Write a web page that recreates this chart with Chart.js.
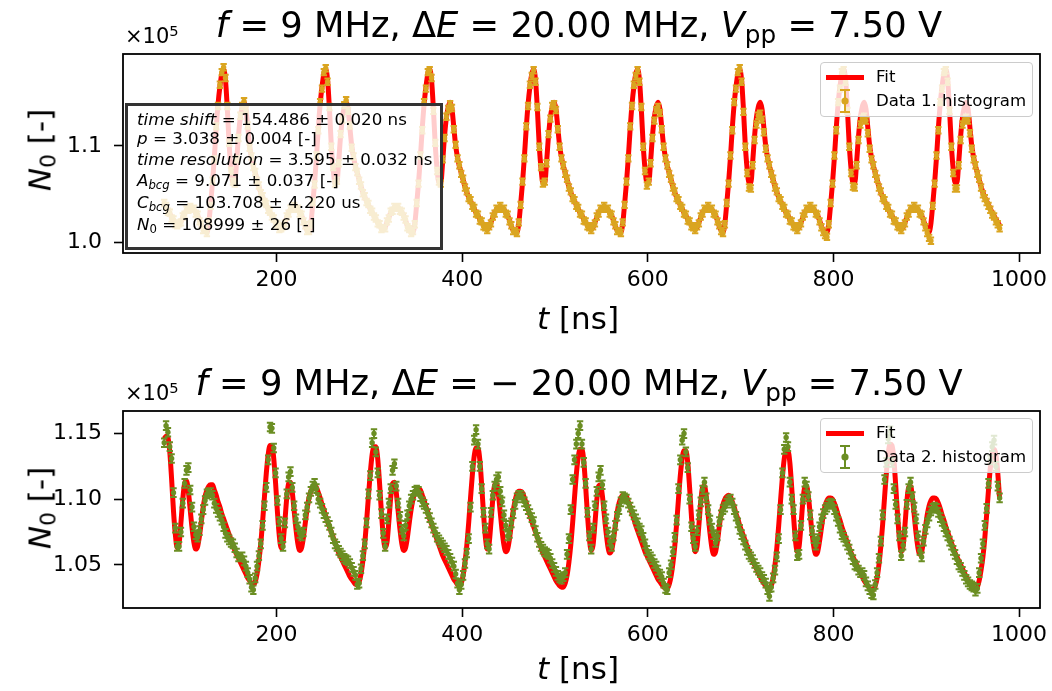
<!DOCTYPE html>
<html>
<head>
<meta charset="utf-8">
<script src="https://cdn.jsdelivr.net/npm/chart.js@4.4.0/dist/chart.umd.min.js"></script>
<style>
  body { margin: 0; background: #fff; font-family: "DejaVu Sans", sans-serif; color: #000; }
  #page { position: relative; width: 1052px; height: 691px; overflow: hidden; }
  canvas { position: absolute; left: 0; }
  .txt { position: absolute; white-space: nowrap; line-height: 1; }
  .title { font-size: 35.3px; transform: translateX(-50%); }
  .xlabel { font-size: 31px; transform: translateX(-50%); }
  .ylabel { font-size: 31px; transform: translate(-50%, -50%) rotate(-90deg); }
  .offset { font-size: 21px; }
  sub { font-size: 0.7em; vertical-align: -0.25em; line-height: 0; }
  sup { font-size: 0.7em; vertical-align: 0.45em; line-height: 0; }
  .legend { position: absolute; box-sizing: border-box; border: 1px solid #cccccc; border-radius: 4px;
            background: rgba(255, 255, 255, 0.8); }
  .legend .fitline { position: absolute; left: 5px; width: 38px; height: 5px; background: #ff0000; }
  .legend .txt { font-size: 16.6px; left: 55px; }
  .legend svg { position: absolute; left: 17px; }
  .fitbox { position: absolute; left: 125px; top: 103px; width: 318px; height: 147px; box-sizing: border-box;
            border: 3px solid #333333; background: rgba(255, 255, 255, 0.8); }
  .fitbox-line { position: absolute; left: 137px; font-size: 16.7px; line-height: 1; white-space: nowrap; }
</style>
</head>
<body>
<div id="page">
  <canvas id="topChart" width="1052" height="345" style="top:0"></canvas>
  <canvas id="bottomChart" width="1052" height="346" style="top:345px"></canvas>

  <!-- upper panel texts -->
  <div class="txt title" style="left:579px; top:7px"><i>f</i> = 9 MHz, Δ<i>E</i> = 20.00 MHz, <i>V</i><sub>pp</sub> = 7.50 V</div>
  <div class="txt offset" style="left:125px; top:26px">×10<sup>5</sup></div>
  <div class="txt ylabel" style="left:40px; top:150px"><i>N</i><sub>0</sub> [-]</div>
  <div class="txt xlabel" style="left:578px; top:303px"><i>t</i> [ns]</div>

  <div class="fitbox"></div>
  <div class="fitbox-line" style="top:111px"><i>time shift</i> = 154.486 ± 0.020 ns</div>
  <div class="fitbox-line" style="top:129.5px"><i>p</i> = 3.038 ± 0.004 [-]</div>
  <div class="fitbox-line" style="top:151px"><i>time resolution</i> = 3.595 ± 0.032 ns</div>
  <div class="fitbox-line" style="top:171.5px"><i>A</i><sub><i>bcg</i></sub> = 9.071 ± 0.037 [-]</div>
  <div class="fitbox-line" style="top:194px"><i>C</i><sub><i>bcg</i></sub> = 103.708 ± 4.220 us</div>
  <div class="fitbox-line" style="top:216px"><i>N</i><sub>0</sub> = 108999 ± 26 [-]</div>

  <div class="legend" style="left:820px; top:62px; width:213px; height:55px">
    <div class="fitline" style="top:11.5px"></div>
    <div class="txt" style="top:5.5px">Fit</div>
    <svg width="14" height="26" style="top:25px"><g stroke="#daa520" stroke-width="2"><line x1="7" y1="2" x2="7" y2="24"/><line x1="2" y1="2" x2="12" y2="2"/><line x1="2" y1="24" x2="12" y2="24"/></g><circle cx="7" cy="13" r="3.6" fill="#daa520"/></svg>
    <div class="txt" style="top:30px">Data 1. histogram</div>
  </div>

  <!-- lower panel texts -->
  <div class="txt title" style="left:579px; top:365px"><i>f</i> = 9 MHz, Δ<i>E</i> = − 20.00 MHz, <i>V</i><sub>pp</sub> = 7.50 V</div>
  <div class="txt offset" style="left:125px; top:383px">×10<sup>5</sup></div>
  <div class="txt ylabel" style="left:40px; top:508px"><i>N</i><sub>0</sub> [-]</div>
  <div class="txt xlabel" style="left:578px; top:653px"><i>t</i> [ns]</div>

  <div class="legend" style="left:820px; top:418px; width:213px; height:55px">
    <div class="fitline" style="top:11.5px"></div>
    <div class="txt" style="top:5.5px">Fit</div>
    <svg width="14" height="26" style="top:25px"><g stroke="#6b8e23" stroke-width="2"><line x1="7" y1="2" x2="7" y2="24"/><line x1="2" y1="2" x2="12" y2="2"/><line x1="2" y1="24" x2="12" y2="24"/></g><circle cx="7" cy="13" r="3.6" fill="#6b8e23"/></svg>
    <div class="txt" style="top:30px">Data 2. histogram</div>
  </div>
</div>

<script>
// histogram bin times [ns]
const times = [
  79, 81, 83, 85, 87, 89, 91, 93, 95, 97,
  99, 101, 103, 105, 107, 109, 111, 113, 115, 117,
  119, 121, 123, 125, 127, 129, 131, 133, 135, 137,
  139, 141, 143, 145, 147, 149, 151, 153, 155, 157,
  159, 161, 163, 165, 167, 169, 171, 173, 175, 177,
  179, 181, 183, 185, 187, 189, 191, 193, 195, 197,
  199, 201, 203, 205, 207, 209, 211, 213, 215, 217,
  219, 221, 223, 225, 227, 229, 231, 233, 235, 237,
  239, 241, 243, 245, 247, 249, 251, 253, 255, 257,
  259, 261, 263, 265, 267, 269, 271, 273, 275, 277,
  279, 281, 283, 285, 287, 289, 291, 293, 295, 297,
  299, 301, 303, 305, 307, 309, 311, 313, 315, 317,
  319, 321, 323, 325, 327, 329, 331, 333, 335, 337,
  339, 341, 343, 345, 347, 349, 351, 353, 355, 357,
  359, 361, 363, 365, 367, 369, 371, 373, 375, 377,
  379, 381, 383, 385, 387, 389, 391, 393, 395, 397,
  399, 401, 403, 405, 407, 409, 411, 413, 415, 417,
  419, 421, 423, 425, 427, 429, 431, 433, 435, 437,
  439, 441, 443, 445, 447, 449, 451, 453, 455, 457,
  459, 461, 463, 465, 467, 469, 471, 473, 475, 477,
  479, 481, 483, 485, 487, 489, 491, 493, 495, 497,
  499, 501, 503, 505, 507, 509, 511, 513, 515, 517,
  519, 521, 523, 525, 527, 529, 531, 533, 535, 537,
  539, 541, 543, 545, 547, 549, 551, 553, 555, 557,
  559, 561, 563, 565, 567, 569, 571, 573, 575, 577,
  579, 581, 583, 585, 587, 589, 591, 593, 595, 597,
  599, 601, 603, 605, 607, 609, 611, 613, 615, 617,
  619, 621, 623, 625, 627, 629, 631, 633, 635, 637,
  639, 641, 643, 645, 647, 649, 651, 653, 655, 657,
  659, 661, 663, 665, 667, 669, 671, 673, 675, 677,
  679, 681, 683, 685, 687, 689, 691, 693, 695, 697,
  699, 701, 703, 705, 707, 709, 711, 713, 715, 717,
  719, 721, 723, 725, 727, 729, 731, 733, 735, 737,
  739, 741, 743, 745, 747, 749, 751, 753, 755, 757,
  759, 761, 763, 765, 767, 769, 771, 773, 775, 777,
  779, 781, 783, 785, 787, 789, 791, 793, 795, 797,
  799, 801, 803, 805, 807, 809, 811, 813, 815, 817,
  819, 821, 823, 825, 827, 829, 831, 833, 835, 837,
  839, 841, 843, 845, 847, 849, 851, 853, 855, 857,
  859, 861, 863, 865, 867, 869, 871, 873, 875, 877,
  879, 881, 883, 885, 887, 889, 891, 893, 895, 897,
  899, 901, 903, 905, 907, 909, 911, 913, 915, 917,
  919, 921, 923, 925, 927, 929, 931, 933, 935, 937,
  939, 941, 943, 945, 947, 949, 951, 953, 955, 957,
  959, 961, 963, 965, 967, 969, 971, 973, 975, 977,
  979
];

// 1st histogram, N0 in units of 1e5
const fit1 = [
  1.040, 1.037, 1.033, 1.030, 1.026, 1.023, 1.020, 1.018, 1.019, 1.022,
  1.026, 1.030, 1.033, 1.035, 1.036, 1.036, 1.034, 1.031, 1.028, 1.023,
  1.018, 1.014, 1.012, 1.011, 1.020, 1.040, 1.062, 1.088, 1.118, 1.143,
  1.161, 1.174, 1.179, 1.168, 1.138, 1.101, 1.076, 1.062, 1.062, 1.084,
  1.110, 1.129, 1.140, 1.145, 1.138, 1.119, 1.100, 1.088, 1.079, 1.072,
  1.065, 1.058, 1.052, 1.047, 1.043, 1.039, 1.035, 1.031, 1.028, 1.024,
  1.021, 1.018, 1.015, 1.014, 1.016, 1.021, 1.026, 1.031, 1.034, 1.036,
  1.037, 1.036, 1.034, 1.031, 1.028, 1.023, 1.017, 1.013, 1.011, 1.020,
  1.040, 1.062, 1.088, 1.118, 1.143, 1.161, 1.174, 1.179, 1.168, 1.138,
  1.101, 1.076, 1.062, 1.062, 1.084, 1.110, 1.129, 1.140, 1.145, 1.138,
  1.119, 1.100, 1.088, 1.079, 1.072, 1.065, 1.058, 1.052, 1.047, 1.043,
  1.039, 1.035, 1.031, 1.028, 1.024, 1.021, 1.018, 1.015, 1.014, 1.016,
  1.021, 1.026, 1.031, 1.034, 1.036, 1.037, 1.036, 1.034, 1.031, 1.028,
  1.023, 1.017, 1.013, 1.011, 1.011, 1.020, 1.040, 1.062, 1.088, 1.118,
  1.143, 1.161, 1.174, 1.179, 1.168, 1.138, 1.101, 1.076, 1.062, 1.062,
  1.084, 1.110, 1.129, 1.140, 1.145, 1.138, 1.119, 1.100, 1.088, 1.079,
  1.072, 1.065, 1.058, 1.052, 1.047, 1.043, 1.039, 1.035, 1.031, 1.028,
  1.024, 1.021, 1.018, 1.015, 1.014, 1.016, 1.021, 1.026, 1.031, 1.034,
  1.036, 1.037, 1.036, 1.034, 1.031, 1.028, 1.023, 1.017, 1.013, 1.011,
  1.011, 1.020, 1.040, 1.062, 1.088, 1.118, 1.143, 1.161, 1.174, 1.179,
  1.168, 1.138, 1.101, 1.076, 1.062, 1.062, 1.084, 1.110, 1.129, 1.140,
  1.145, 1.138, 1.119, 1.100, 1.088, 1.079, 1.072, 1.065, 1.058, 1.052,
  1.047, 1.043, 1.039, 1.035, 1.031, 1.028, 1.024, 1.021, 1.018, 1.015,
  1.014, 1.016, 1.021, 1.026, 1.031, 1.034, 1.036, 1.037, 1.036, 1.034,
  1.031, 1.028, 1.023, 1.017, 1.013, 1.011, 1.011, 1.020, 1.040, 1.062,
  1.088, 1.118, 1.143, 1.161, 1.174, 1.179, 1.168, 1.138, 1.101, 1.076,
  1.062, 1.062, 1.084, 1.110, 1.129, 1.140, 1.145, 1.138, 1.119, 1.100,
  1.088, 1.079, 1.072, 1.065, 1.058, 1.052, 1.047, 1.043, 1.039, 1.035,
  1.031, 1.028, 1.024, 1.021, 1.018, 1.015, 1.014, 1.016, 1.021, 1.026,
  1.031, 1.034, 1.036, 1.037, 1.036, 1.034, 1.031, 1.028, 1.023, 1.017,
  1.013, 1.011, 1.020, 1.040, 1.062, 1.088, 1.118, 1.143, 1.161, 1.174,
  1.179, 1.168, 1.138, 1.101, 1.076, 1.062, 1.062, 1.084, 1.110, 1.129,
  1.140, 1.145, 1.138, 1.119, 1.100, 1.088, 1.079, 1.072, 1.065, 1.058,
  1.052, 1.047, 1.043, 1.039, 1.035, 1.031, 1.028, 1.024, 1.021, 1.018,
  1.015, 1.014, 1.016, 1.021, 1.026, 1.031, 1.034, 1.036, 1.037, 1.036,
  1.034, 1.031, 1.028, 1.023, 1.017, 1.013, 1.011, 1.011, 1.020, 1.040,
  1.062, 1.088, 1.118, 1.143, 1.161, 1.174, 1.179, 1.168, 1.138, 1.101,
  1.076, 1.062, 1.062, 1.084, 1.110, 1.129, 1.140, 1.145, 1.138, 1.119,
  1.100, 1.088, 1.079, 1.072, 1.065, 1.058, 1.052, 1.047, 1.043, 1.039,
  1.035, 1.031, 1.028, 1.024, 1.021, 1.018, 1.015, 1.014, 1.016, 1.021,
  1.026, 1.031, 1.034, 1.036, 1.037, 1.036, 1.034, 1.031, 1.028, 1.023,
  1.017, 1.013, 1.011, 1.020, 1.040, 1.062, 1.088, 1.118, 1.143, 1.161,
  1.174, 1.179, 1.168, 1.138, 1.101, 1.076, 1.062, 1.062, 1.084, 1.110,
  1.129, 1.140, 1.145, 1.138, 1.119, 1.100, 1.088, 1.079, 1.072, 1.065,
  1.058, 1.052, 1.047, 1.043, 1.039, 1.035, 1.031, 1.028, 1.024, 1.021,
  1.018
];
const counts1 = [
  1.041, 1.038, 1.032, 1.031, 1.025, 1.024, 1.019, 1.018, 1.020, 1.021,
  1.027, 1.029, 1.034, 1.034, 1.037, 1.035, 1.035, 1.030, 1.029, 1.022,
  1.019, 1.013, 1.013, 1.010, 1.022, 1.038, 1.064, 1.086, 1.120, 1.141,
  1.163, 1.176, 1.181, 1.170, 1.141, 1.103, 1.074, 1.063, 1.061, 1.086,
  1.108, 1.131, 1.141, 1.146, 1.137, 1.121, 1.098, 1.089, 1.078, 1.073,
  1.064, 1.059, 1.051, 1.048, 1.042, 1.040, 1.034, 1.032, 1.027, 1.025,
  1.020, 1.019, 1.014, 1.015, 1.017, 1.020, 1.027, 1.030, 1.035, 1.035,
  1.038, 1.035, 1.035, 1.030, 1.029, 1.022, 1.018, 1.012, 1.012, 1.019,
  1.042, 1.060, 1.090, 1.116, 1.145, 1.159, 1.176, 1.180, 1.166, 1.140,
  1.099, 1.078, 1.061, 1.064, 1.082, 1.112, 1.127, 1.142, 1.147, 1.136,
  1.121, 1.098, 1.089, 1.078, 1.073, 1.064, 1.059, 1.051, 1.048, 1.042,
  1.040, 1.034, 1.032, 1.027, 1.025, 1.020, 1.019, 1.014, 1.015, 1.015,
  1.022, 1.025, 1.032, 1.033, 1.037, 1.036, 1.037, 1.033, 1.032, 1.027,
  1.024, 1.016, 1.014, 1.010, 1.012, 1.019, 1.041, 1.061, 1.090, 1.116,
  1.145, 1.159, 1.176, 1.178, 1.170, 1.136, 1.103, 1.074, 1.063, 1.061,
  1.086, 1.108, 1.130, 1.138, 1.143, 1.139, 1.117, 1.101, 1.087, 1.080,
  1.071, 1.066, 1.057, 1.053, 1.046, 1.044, 1.038, 1.036, 1.030, 1.029,
  1.023, 1.022, 1.017, 1.016, 1.013, 1.017, 1.020, 1.027, 1.030, 1.035,
  1.035, 1.038, 1.035, 1.035, 1.030, 1.029, 1.022, 1.018, 1.012, 1.012,
  1.010, 1.021, 1.039, 1.063, 1.087, 1.120, 1.141, 1.163, 1.172, 1.178,
  1.166, 1.140, 1.099, 1.078, 1.061, 1.063, 1.082, 1.112, 1.128, 1.141,
  1.143, 1.137, 1.117, 1.099, 1.087, 1.080, 1.071, 1.066, 1.057, 1.053,
  1.046, 1.044, 1.038, 1.036, 1.030, 1.029, 1.023, 1.022, 1.017, 1.016,
  1.013, 1.017, 1.020, 1.027, 1.030, 1.035, 1.035, 1.038, 1.035, 1.035,
  1.030, 1.029, 1.022, 1.018, 1.012, 1.012, 1.010, 1.021, 1.039, 1.063,
  1.087, 1.120, 1.141, 1.163, 1.172, 1.178, 1.166, 1.140, 1.099, 1.074,
  1.059, 1.063, 1.082, 1.108, 1.126, 1.137, 1.140, 1.134, 1.117, 1.099,
  1.087, 1.080, 1.071, 1.066, 1.057, 1.053, 1.046, 1.044, 1.038, 1.036,
  1.030, 1.029, 1.023, 1.022, 1.017, 1.016, 1.013, 1.017, 1.020, 1.027,
  1.030, 1.035, 1.035, 1.038, 1.035, 1.035, 1.030, 1.029, 1.022, 1.018,
  1.012, 1.010, 1.019, 1.041, 1.061, 1.090, 1.116, 1.145, 1.159, 1.176,
  1.180, 1.166, 1.135, 1.099, 1.072, 1.057, 1.056, 1.080, 1.106, 1.122,
  1.131, 1.133, 1.127, 1.114, 1.097, 1.087, 1.080, 1.071, 1.066, 1.057,
  1.053, 1.046, 1.044, 1.038, 1.036, 1.030, 1.029, 1.023, 1.022, 1.017,
  1.016, 1.013, 1.017, 1.020, 1.027, 1.030, 1.035, 1.035, 1.038, 1.035,
  1.035, 1.030, 1.029, 1.022, 1.016, 1.011, 1.008, 1.006, 1.019, 1.041,
  1.061, 1.090, 1.116, 1.145, 1.159, 1.176, 1.178, 1.166, 1.136, 1.099,
  1.072, 1.058, 1.057, 1.080, 1.106, 1.122, 1.128, 1.130, 1.126, 1.113,
  1.097, 1.086, 1.080, 1.071, 1.066, 1.057, 1.053, 1.046, 1.044, 1.038,
  1.036, 1.030, 1.029, 1.023, 1.022, 1.017, 1.016, 1.013, 1.017, 1.020,
  1.027, 1.030, 1.035, 1.035, 1.038, 1.035, 1.035, 1.030, 1.029, 1.022,
  1.016, 1.010, 1.005, 1.002, 1.038, 1.061, 1.090, 1.116, 1.145, 1.159,
  1.176, 1.178, 1.166, 1.136, 1.099, 1.072, 1.056, 1.056, 1.080, 1.106,
  1.122, 1.127, 1.129, 1.126, 1.113, 1.097, 1.086, 1.080, 1.071, 1.066,
  1.057, 1.050, 1.046, 1.042, 1.038, 1.034, 1.029, 1.027, 1.022, 1.019,
  1.015
];

// 2nd histogram, N0 in units of 1e5
const fit2 = [
  1.146, 1.148, 1.147, 1.136, 1.115, 1.091, 1.073, 1.063, 1.066, 1.082,
  1.100, 1.112, 1.114, 1.106, 1.092, 1.078, 1.067, 1.062, 1.064, 1.072,
  1.083, 1.094, 1.102, 1.107, 1.110, 1.111, 1.111, 1.107, 1.103, 1.098,
  1.094, 1.089, 1.085, 1.081, 1.077, 1.073, 1.069, 1.065, 1.061, 1.058,
  1.055, 1.052, 1.049, 1.046, 1.043, 1.040, 1.038, 1.036, 1.035, 1.037,
  1.043, 1.053, 1.066, 1.083, 1.102, 1.120, 1.134, 1.141, 1.141, 1.131,
  1.112, 1.090, 1.072, 1.063, 1.067, 1.083, 1.101, 1.112, 1.113, 1.105,
  1.091, 1.077, 1.066, 1.061, 1.063, 1.071, 1.082, 1.093, 1.101, 1.106,
  1.109, 1.110, 1.109, 1.105, 1.101, 1.096, 1.092, 1.087, 1.083, 1.079,
  1.075, 1.071, 1.067, 1.063, 1.059, 1.056, 1.053, 1.050, 1.047, 1.044,
  1.041, 1.039, 1.037, 1.035, 1.035, 1.037, 1.043, 1.053, 1.066, 1.083,
  1.102, 1.120, 1.134, 1.140, 1.140, 1.131, 1.112, 1.090, 1.072, 1.063,
  1.067, 1.083, 1.101, 1.112, 1.113, 1.105, 1.091, 1.077, 1.066, 1.061,
  1.063, 1.071, 1.082, 1.092, 1.100, 1.105, 1.107, 1.108, 1.107, 1.103,
  1.099, 1.094, 1.090, 1.085, 1.081, 1.077, 1.073, 1.069, 1.065, 1.061,
  1.057, 1.054, 1.051, 1.048, 1.045, 1.042, 1.039, 1.037, 1.035, 1.034,
  1.036, 1.042, 1.052, 1.065, 1.082, 1.101, 1.119, 1.133, 1.139, 1.139,
  1.130, 1.111, 1.089, 1.071, 1.062, 1.066, 1.082, 1.100, 1.111, 1.112,
  1.104, 1.090, 1.076, 1.065, 1.060, 1.062, 1.070, 1.081, 1.091, 1.099,
  1.104, 1.106, 1.106, 1.105, 1.101, 1.097, 1.092, 1.088, 1.083, 1.079,
  1.075, 1.071, 1.067, 1.063, 1.059, 1.056, 1.053, 1.050, 1.047, 1.044,
  1.041, 1.038, 1.036, 1.034, 1.033, 1.033, 1.036, 1.042, 1.052, 1.065,
  1.082, 1.101, 1.119, 1.132, 1.138, 1.138, 1.129, 1.110, 1.088, 1.070,
  1.061, 1.065, 1.081, 1.099, 1.110, 1.111, 1.103, 1.089, 1.075, 1.064,
  1.059, 1.061, 1.069, 1.080, 1.090, 1.097, 1.101, 1.103, 1.103, 1.102,
  1.098, 1.094, 1.089, 1.085, 1.080, 1.076, 1.072, 1.068, 1.064, 1.060,
  1.057, 1.054, 1.051, 1.048, 1.045, 1.042, 1.039, 1.037, 1.035, 1.033,
  1.032, 1.032, 1.035, 1.041, 1.051, 1.064, 1.081, 1.100, 1.118, 1.131,
  1.137, 1.137, 1.128, 1.109, 1.087, 1.069, 1.060, 1.064, 1.080, 1.098,
  1.109, 1.110, 1.102, 1.088, 1.074, 1.063, 1.058, 1.060, 1.068, 1.079,
  1.089, 1.096, 1.100, 1.102, 1.103, 1.102, 1.098, 1.094, 1.089, 1.085,
  1.080, 1.076, 1.072, 1.068, 1.064, 1.060, 1.056, 1.053, 1.050, 1.047,
  1.044, 1.041, 1.038, 1.036, 1.034, 1.032, 1.031, 1.034, 1.040, 1.050,
  1.063, 1.080, 1.099, 1.117, 1.131, 1.137, 1.137, 1.128, 1.109, 1.087,
  1.069, 1.060, 1.064, 1.080, 1.098, 1.109, 1.110, 1.102, 1.088, 1.074,
  1.063, 1.058, 1.060, 1.068, 1.078, 1.088, 1.095, 1.099, 1.101, 1.101,
  1.100, 1.097, 1.093, 1.088, 1.084, 1.079, 1.075, 1.071, 1.067, 1.063,
  1.059, 1.056, 1.053, 1.050, 1.047, 1.044, 1.041, 1.038, 1.036, 1.034,
  1.032, 1.031, 1.031, 1.034, 1.040, 1.050, 1.064, 1.081, 1.101, 1.120,
  1.135, 1.142, 1.141, 1.131, 1.111, 1.089, 1.070, 1.060, 1.064, 1.080,
  1.098, 1.109, 1.110, 1.102, 1.088, 1.074, 1.063, 1.058, 1.060, 1.068,
  1.078, 1.088, 1.095, 1.099, 1.101, 1.101, 1.100, 1.097, 1.093, 1.088,
  1.084, 1.079, 1.075, 1.071, 1.067, 1.063, 1.059, 1.056, 1.053, 1.050,
  1.047, 1.044, 1.041, 1.038, 1.036, 1.034, 1.032, 1.031, 1.033, 1.038,
  1.046, 1.056, 1.070, 1.088, 1.107, 1.124, 1.134, 1.138, 1.134, 1.120,
  1.100
];
const counts2 = [
  1.143, 1.156, 1.151, 1.140, 1.131, 1.105, 1.078, 1.064, 1.064, 1.075,
  1.097, 1.112, 1.122, 1.124, 1.107, 1.094, 1.079, 1.073, 1.071, 1.076,
  1.085, 1.092, 1.099, 1.104, 1.105, 1.105, 1.103, 1.097, 1.093, 1.090,
  1.087, 1.084, 1.079, 1.074, 1.071, 1.069, 1.067, 1.066, 1.063, 1.059,
  1.056, 1.056, 1.056, 1.053, 1.049, 1.044, 1.039, 1.033, 1.031, 1.040,
  1.049, 1.057, 1.066, 1.080, 1.095, 1.109, 1.130, 1.155, 1.154, 1.139,
  1.120, 1.099, 1.083, 1.070, 1.064, 1.082, 1.104, 1.117, 1.121, 1.109,
  1.095, 1.085, 1.079, 1.074, 1.072, 1.075, 1.088, 1.094, 1.101, 1.106,
  1.110, 1.112, 1.108, 1.100, 1.097, 1.093, 1.089, 1.086, 1.083, 1.080,
  1.075, 1.070, 1.066, 1.064, 1.061, 1.059, 1.057, 1.055, 1.054, 1.053,
  1.051, 1.048, 1.045, 1.042, 1.035, 1.036, 1.047, 1.057, 1.066, 1.082,
  1.104, 1.118, 1.143, 1.150, 1.136, 1.120, 1.103, 1.089, 1.074, 1.064,
  1.085, 1.097, 1.108, 1.122, 1.127, 1.110, 1.097, 1.087, 1.077, 1.072,
  1.080, 1.088, 1.095, 1.100, 1.103, 1.106, 1.107, 1.106, 1.102, 1.098,
  1.096, 1.093, 1.089, 1.086, 1.082, 1.078, 1.075, 1.071, 1.069, 1.067,
  1.065, 1.063, 1.061, 1.058, 1.055, 1.052, 1.049, 1.043, 1.036, 1.031,
  1.035, 1.042, 1.051, 1.059, 1.070, 1.094, 1.125, 1.145, 1.153, 1.142,
  1.125, 1.108, 1.090, 1.078, 1.066, 1.062, 1.090, 1.103, 1.110, 1.115,
  1.117, 1.106, 1.098, 1.088, 1.080, 1.072, 1.074, 1.082, 1.089, 1.096,
  1.101, 1.103, 1.103, 1.101, 1.098, 1.095, 1.092, 1.089, 1.086, 1.083,
  1.076, 1.071, 1.067, 1.064, 1.062, 1.060, 1.059, 1.058, 1.055, 1.051,
  1.048, 1.045, 1.042, 1.040, 1.039, 1.041, 1.044, 1.058, 1.070, 1.092,
  1.115, 1.130, 1.142, 1.150, 1.156, 1.142, 1.128, 1.112, 1.090, 1.072,
  1.062, 1.078, 1.095, 1.106, 1.117, 1.122, 1.111, 1.095, 1.085, 1.075,
  1.068, 1.064, 1.072, 1.080, 1.087, 1.092, 1.098, 1.102, 1.101, 1.100,
  1.097, 1.094, 1.091, 1.088, 1.085, 1.082, 1.078, 1.076, 1.071, 1.066,
  1.061, 1.058, 1.056, 1.054, 1.051, 1.049, 1.046, 1.043, 1.041, 1.036,
  1.032, 1.031, 1.044, 1.050, 1.060, 1.071, 1.084, 1.108, 1.130, 1.145,
  1.150, 1.136, 1.124, 1.100, 1.079, 1.070, 1.064, 1.076, 1.088, 1.098,
  1.107, 1.113, 1.101, 1.092, 1.084, 1.078, 1.073, 1.067, 1.072, 1.083,
  1.088, 1.092, 1.094, 1.097, 1.099, 1.100, 1.097, 1.092, 1.087, 1.082,
  1.077, 1.073, 1.069, 1.065, 1.061, 1.058, 1.056, 1.054, 1.051, 1.048,
  1.046, 1.044, 1.041, 1.039, 1.036, 1.031, 1.026, 1.033, 1.040, 1.046,
  1.056, 1.070, 1.092, 1.120, 1.138, 1.147, 1.140, 1.113, 1.100, 1.092,
  1.072, 1.057, 1.058, 1.080, 1.100, 1.113, 1.110, 1.102, 1.088, 1.076,
  1.070, 1.065, 1.070, 1.079, 1.085, 1.089, 1.092, 1.094, 1.096, 1.097,
  1.096, 1.092, 1.087, 1.083, 1.078, 1.073, 1.071, 1.068, 1.065, 1.062,
  1.058, 1.054, 1.050, 1.049, 1.046, 1.044, 1.044, 1.042, 1.037, 1.034,
  1.031, 1.028, 1.027, 1.035, 1.044, 1.055, 1.068, 1.088, 1.115, 1.128,
  1.146, 1.152, 1.128, 1.108, 1.096, 1.085, 1.072, 1.057, 1.065, 1.075,
  1.096, 1.108, 1.113, 1.102, 1.094, 1.085, 1.072, 1.061, 1.056, 1.068,
  1.077, 1.082, 1.087, 1.091, 1.093, 1.094, 1.093, 1.090, 1.086, 1.083,
  1.079, 1.075, 1.072, 1.068, 1.065, 1.061, 1.058, 1.054, 1.050, 1.048,
  1.045, 1.042, 1.039, 1.037, 1.035, 1.034, 1.033, 1.030, 1.032, 1.044,
  1.055, 1.066, 1.080, 1.093, 1.112, 1.130, 1.140, 1.145, 1.125, 1.110,
  1.101
];

// statistical error of a bin (sqrt of the counts), same units
const countErr = 0.0033;

const xTicks = [200, 400, 600, 800, 1000];
const yTicks1 = [1.0, 1.1];
const yTicks2 = [1.05, 1.10, 1.15];

Chart.defaults.font.family = '"DejaVu Sans", sans-serif';
Chart.defaults.color = '#000';

// vertical error bars with caps, drawn right under the data markers
const errorBars = {
  id: 'errorBars',
  beforeDatasetDraw(chart, args) {
    const ds = chart.data.datasets[args.index];
    if (!ds.errorBar) return;
    const { ctx, chartArea, scales } = chart;
    ctx.save();
    ctx.beginPath();
    ctx.rect(chartArea.left, chartArea.top, chartArea.width, chartArea.height);
    ctx.clip();
    ctx.strokeStyle = ds.backgroundColor;
    ctx.lineWidth = 2;
    ctx.beginPath();
    ds.data.forEach(p => {
      const px = scales.x.getPixelForValue(p.x);
      const hi = scales.y.getPixelForValue(p.y + ds.errorBar);
      const lo = scales.y.getPixelForValue(p.y - ds.errorBar);
      ctx.moveTo(px, hi); ctx.lineTo(px, lo);
      ctx.moveTo(px - 3.2, hi); ctx.lineTo(px + 3.2, hi);
      ctx.moveTo(px - 3.2, lo); ctx.lineTo(px + 3.2, lo);
    });
    ctx.stroke();
    ctx.restore();
  }
};

// closed axes frame
const frame = {
  id: 'frame',
  afterDraw(chart) {
    const { ctx, chartArea: a } = chart;
    ctx.save();
    ctx.strokeStyle = '#000';
    ctx.lineWidth = 1.8;
    ctx.strokeRect(a.left, a.top, a.right - a.left, a.bottom - a.top);
    ctx.restore();
  }
};

const toPoints = (xs, ys) => xs.map((x, i) => ({ x, y: ys[i] }));

function makePanel(id, opt) {
  return new Chart(document.getElementById(id), {
    type: 'scatter',
    data: {
      datasets: [
        {
          label: opt.label,
          data: toPoints(times, opt.counts),
          backgroundColor: opt.color,
          pointRadius: 2.7,
          pointBorderWidth: 0,
          errorBar: countErr,
          order: 0
        },
        {
          label: 'Fit',
          data: toPoints(times, opt.fit),
          showLine: true,
          borderColor: '#ff0000',
          borderWidth: 5,
          borderJoinStyle: 'round',
          pointRadius: 0,
          cubicInterpolationMode: 'monotone',
          order: 1
        }
      ]
    },
    options: {
      responsive: false,
      animation: false,
      devicePixelRatio: 1,
      events: [],
      layout: { padding: { top: opt.top, right: 12, left: 0, bottom: 0 } },
      plugins: { legend: { display: false }, tooltip: { enabled: false } },
      scales: {
        x: {
          type: 'linear',
          min: 34.6,
          max: 1022.5,
          afterBuildTicks: s => { s.ticks = xTicks.map(v => ({ value: v })); },
          afterFit: s => { s.height = opt.xHeight; s.paddingLeft = 0; s.paddingRight = 0; },
          ticks: { font: { size: 22 }, padding: 5, maxRotation: 0, callback: v => String(v) },
          grid: { drawOnChartArea: false, drawTicks: true, tickLength: 9, tickWidth: 1.6, tickColor: '#000' },
          border: { display: false }
        },
        y: {
          type: 'linear',
          min: opt.yMin,
          max: opt.yMax,
          afterBuildTicks: s => { s.ticks = opt.yTicks.map(v => ({ value: v })); },
          afterFit: s => { s.width = 123; s.paddingTop = 0; s.paddingBottom = 0; },
          ticks: { font: { size: 22 }, padding: 12, callback: v => v.toFixed(opt.decimals) },
          grid: { drawOnChartArea: false, drawTicks: true, tickLength: 9, tickWidth: 1.6, tickColor: '#000' },
          border: { display: false }
        }
      }
    },
    plugins: [errorBars, frame]
  });
}

makePanel('topChart', {
  label: 'Data 1. histogram', counts: counts1, fit: fit1, color: '#daa520',
  top: 54, xHeight: 92, yMin: 0.9894, yMax: 1.1947, yTicks: yTicks1, decimals: 1
});

makePanel('bottomChart', {
  label: 'Data 2. histogram', counts: counts2, fit: fit2, color: '#6b8e23',
  top: 66, xHeight: 83, yMin: 1.0171, yMax: 1.1672, yTicks: yTicks2, decimals: 2
});
</script>
</body>
</html>
